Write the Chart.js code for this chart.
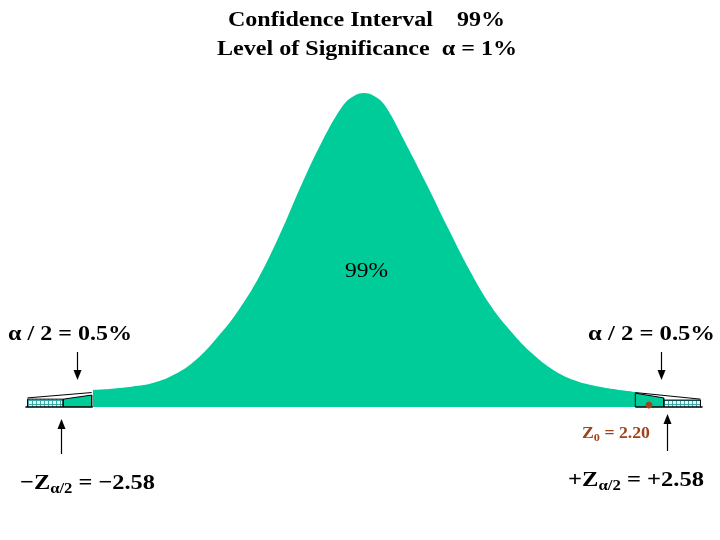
<!DOCTYPE html>
<html>
<head>
<meta charset="utf-8">
<script src="https://cdn.jsdelivr.net/npm/chart.js@4.4.1/dist/chart.umd.min.js"></script>
<style>
  html, body { margin: 0; padding: 0; background: #fff; }
  #wrap { width: 720px; height: 540px; }
</style>
</head>
<body>
<div id="wrap"><canvas id="grafico" width="720" height="540"></canvas></div>
<script>
// curve of the 99% region (z, height in % of the peak)
const curveZ = [-2.58, -2.4, -2.2, -2.0, -1.8, -1.6, -1.4, -1.2, -1.0, -0.8, -0.6, -0.4, -0.2, -0.1, 0,
                0.1, 0.2, 0.4, 0.6, 0.8, 1.0, 1.2, 1.4, 1.6, 1.8, 2.0, 2.2, 2.4, 2.58];
const curveH = [5.4, 5.8, 6.5, 7.7, 10.4, 15.0, 22.0, 30.5, 41.3, 55.0, 70.4, 84.5, 96.0, 99.0, 100,
                99.0, 96.0, 83.7, 70.6, 56.9, 43.8, 32.5, 24.0, 17.0, 11.8, 8.5, 6.7, 5.6, 4.8];

// rejection tails
const tailLeftZ = [-2.86, -2.86, -2.59, -2.59];
const tailLeftH = [0, 2.5, 3.8, 0];
const hatchLeftZ = [-3.2, -3.2, -2.86, -2.86];
const hatchLeftH = [0, 2.5, 2.5, 0];
const edgeLeftZ = [-3.2, -2.59];
const edgeLeftH = [2.9, 4.6];

const tailRightZ = [2.58, 2.58, 2.85, 2.85];
const tailRightH = [0, 4.4, 2.9, 0];
const hatchRightZ = [2.85, 2.85, 3.2, 3.2];
const hatchRightH = [0, 2.2, 2.2, 0];
const edgeRightZ = [2.58, 3.2];
const edgeRightH = [4.6, 2.5];

const baseLeftZ = [-3.22, -2.58];
const baseRightZ = [2.58, 3.22];

const z0Point = { x: 2.71, y: 0.6 };

// arrows (z position)
const arrowDownZ = [-2.73, 2.82];
const arrowUpZ = [-2.88, 2.88];

const canvas = document.getElementById('grafico');
const ctx = canvas.getContext('2d');

const teal = '#00cc99';
const brown = '#a0421b';

function pts(xs, ys) {
  return xs.map((x, i) => ({ x, y: ys[i] }));
}

function hatch() {
  const c = document.createElement('canvas');
  c.width = 4; c.height = 4;
  const g = c.getContext('2d');
  g.fillStyle = '#dcfcfc';
  g.fillRect(0, 0, 4, 4);
  g.fillStyle = '#3aa6a6';
  g.fillRect(0, 0, 1, 4);
  g.fillRect(0, 0, 4, 1);
  return ctx.createPattern(c, 'repeat');
}
const pattern = hatch();

function arrow(c, x, y1, y2) {
  const dir = y2 > y1 ? 1 : -1;
  c.beginPath();
  c.moveTo(x, y1);
  c.lineTo(x, y2 - dir * 8);
  c.lineWidth = 1.2;
  c.strokeStyle = '#000';
  c.stroke();
  c.beginPath();
  c.moveTo(x, y2);
  c.lineTo(x - 4, y2 - dir * 10);
  c.lineTo(x + 4, y2 - dir * 10);
  c.closePath();
  c.fillStyle = '#000';
  c.fill();
}

// pieces: [text, font, dy]; stretched to fit between left and right
function fitText(c, pieces, left, right, base, color) {
  let w = 0;
  pieces.forEach(p => { c.font = p[1]; w += c.measureText(p[0]).width; });
  const k = (right - left) / w;
  c.save();
  c.translate(left, base);
  c.scale(k, 1);
  c.fillStyle = color || '#000';
  c.textAlign = 'left';
  c.textBaseline = 'alphabetic';
  let x = 0;
  pieces.forEach(p => {
    c.font = p[1];
    c.fillText(p[0], x, p[2] || 0);
    x += c.measureText(p[0]).width;
  });
  c.restore();
}

const labelsPlugin = {
  id: 'labels',
  afterDraw(chart) {
    const c = chart.ctx;
    const xs = chart.scales.x;
    const tb = 'bold 22px "Liberation Serif"';
    const lb = 'bold 22px "Liberation Serif"';
    const sb = 'bold 15px "Liberation Serif"';
    fitText(c, [['Confidence Interval    99%', tb]], 228, 505, 26);
    fitText(c, [['Level of Significance  α = 1%', tb]], 217, 517, 55);
    fitText(c, [['99%', '22px "Liberation Serif"']], 345, 388, 277);

    fitText(c, [['α / 2 = 0.5%', lb]], 8, 132, 340);
    fitText(c, [['α / 2 = 0.5%', lb]], 588, 715, 340);

    fitText(c, [['−Z', lb], ['α/2', sb, 4], [' = −2.58', lb]], 20, 155, 489);
    fitText(c, [['+Z', lb], ['α/2', sb, 4], [' = +2.58', lb]], 568, 704, 486);

    fitText(c, [['Z', 'bold 16px "Liberation Serif"'], ['0', 'bold 11px "Liberation Serif"', 3],
                [' = 2.20', 'bold 16px "Liberation Serif"']], 582, 650, 438, brown);

    c.save();
    arrow(c, Math.round(xs.getPixelForValue(arrowDownZ[0])) + 0.5, 352, 380);
    arrow(c, Math.round(xs.getPixelForValue(arrowDownZ[1])) + 0.5, 352, 380);
    arrow(c, Math.round(xs.getPixelForValue(arrowUpZ[0])) + 0.5, 454, 419);
    arrow(c, Math.round(xs.getPixelForValue(arrowUpZ[1])) + 0.5, 451, 414);
    c.restore();
  }
};

const common = { pointRadius: 0, tension: 0, clip: false, fill: 'origin' };

const chart = new Chart(ctx, {
  type: 'line',
  data: {
    datasets: [
      { ...common, data: pts(curveZ, curveH), backgroundColor: teal, borderWidth: 0,
        tension: 0.4, order: 5 },
      { ...common, data: pts(tailLeftZ, tailLeftH), backgroundColor: teal, borderColor: '#000', borderWidth: 1, order: 4 },
      { ...common, data: pts(hatchLeftZ, hatchLeftH), backgroundColor: pattern, borderColor: '#000', borderWidth: 1, order: 4 },
      { ...common, data: pts(tailRightZ, tailRightH), backgroundColor: teal, borderColor: '#000', borderWidth: 1, order: 4 },
      { ...common, data: pts(hatchRightZ, hatchRightH), backgroundColor: pattern, borderColor: '#000', borderWidth: 1, order: 4 },
      { ...common, fill: false, data: pts(edgeLeftZ, edgeLeftH), borderColor: '#000', borderWidth: 1, order: 2 },
      { ...common, fill: false, data: pts(edgeRightZ, edgeRightH), borderColor: '#000', borderWidth: 1, order: 2 },
      { ...common, fill: false, data: pts(baseLeftZ, [0, 0]), borderColor: '#000', borderWidth: 1.5, order: 1 },
      { ...common, fill: false, data: pts(baseRightZ, [0, 0]), borderColor: '#000', borderWidth: 1.5, order: 1 },
      { type: 'scatter', data: [z0Point], pointRadius: 3, pointBackgroundColor: brown, pointBorderColor: brown,
        clip: false, order: 0 }
    ]
  },
  options: {
    responsive: false,
    animation: false,
    devicePixelRatio: 1,
    layout: { padding: { left: 17, right: 9, top: 93, bottom: 133 } },
    scales: {
      x: { type: 'linear', min: -3.3, max: 3.3, display: false },
      y: { min: 0, max: 100, display: false }
    },
    plugins: { legend: { display: false }, tooltip: { enabled: false } }
  },
  plugins: [labelsPlugin]
});
</script>
</body>
</html>
